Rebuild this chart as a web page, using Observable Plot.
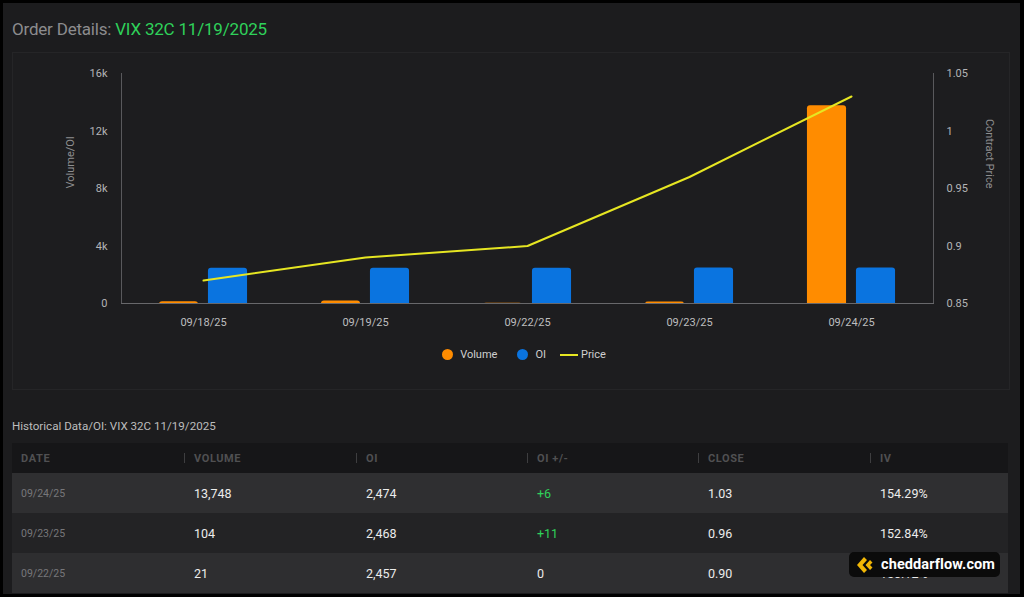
<!DOCTYPE html>
<html>
<head>
<meta charset="utf-8">
<script src="https://cdn.jsdelivr.net/npm/d3@7"></script>
<script src="https://cdn.jsdelivr.net/npm/@observablehq/plot@0.6"></script>
<style>
  html, body { margin: 0; padding: 0; background: #000; }
  body { width: 1024px; height: 597px; overflow: hidden; position: relative; font-family: Roboto, "Noto Sans", sans-serif; }
  #page { position: absolute; left: 3px; top: 3px; width: 1017px; height: 591px; background: #1c1c1e; }
  .abs { position: absolute; }
  #title { left: 12px; top: 19px; font-size: 17px; color: #8c8c8e; white-space: nowrap; letter-spacing: -0.2px; }
  #title .sym { color: #2fd15a; }
  #panel { left: 12px; top: 52px; width: 998px; height: 338px; border: 1px solid #252527; box-sizing: border-box; background: #1d1d1f; }
  #chart { left: 12px; top: 52px; }
  #legend { top: 348px; left: 12px; width: 1024px; display: flex; justify-content: center; align-items: center; font-size: 11px; color: #cfcfcf; }
  #legend .item { display: flex; align-items: center; margin: 0 10px; }
  #legend .item.kind-line { margin-left: 4px; }
  #legend .sw-dot { width: 11px; height: 11px; border-radius: 50%; margin-right: 7px; }
  #legend .sw-line { width: 18px; height: 2px; margin-right: 3px; }
  #histTitle { left: 12px; top: 419px; font-size: 11.6px; color: #bdbdbd; white-space: nowrap; }
  #table { left: 12px; top: 443px; width: 996px; }
  .row { position: relative; height: 40px; }
  .row.head { height: 30px; background: #161618; }
  .cell { position: absolute; top: 0; height: 100%; display: flex; align-items: center; white-space: nowrap; }
  .head .cell { font-size: 11px; font-weight: 700; color: #505052; letter-spacing: 0.6px; }
  .sep { position: absolute; width: 1px; height: 10px; top: 10px; background: #3e3e40; }
  .date { font-size: 10.5px; color: #77777a; }
  .val { font-size: 12.5px; color: #ececec; }
  .pos { color: #2fd15a; }
  #badge { left: 849px; top: 552px; width: 151px; height: 25px; background: #0b0b0b; border-radius: 5px; display: flex; align-items: center; }
  #badge span { color: #fff; font-weight: 700; font-size: 14.5px; margin-left: 4px; letter-spacing: 0.1px; }
</style>
</head>
<body>
<div id="page"></div>
<div id="title" class="abs">Order Details: <span class="sym">VIX 32C 11/19/2025</span></div>
<div id="panel" class="abs"></div>
<div id="chart" class="abs"></div>
<div id="legend" class="abs"></div>
<div id="histTitle" class="abs">Historical Data/OI: VIX 32C 11/19/2025</div>
<div id="table" class="abs"></div>
<div id="badge" class="abs">
  <svg width="22" height="20" viewBox="0 0 22 20" style="margin-left:6px">
    <path d="M9 2 L2 10 L9 18 L12 15 L7.5 10 L12 5 Z" fill="#f2b705"/>
    <path d="M15 5 L10.5 10 L15 15 L17.5 12.5 L15 10 L17.5 7.5 Z" fill="#f2b705"/>
  </svg>
  <span>cheddarflow.com</span>
</div>
<script>
// Daily series for VIX 32C 11/19/2025
const dates = ["09/18/25", "09/19/25", "09/22/25", "09/23/25", "09/24/25"];
const volume = [120, 180, 21, 104, 13748];
const openInterest = [2450, 2457, 2457, 2468, 2474];
const contractPrice = [0.87, 0.89, 0.90, 0.96, 1.03];

// Axis ticks
const volumeTicks = [0, 4000, 8000, 12000, 16000];
const priceTicks = [0.85, 0.90, 0.95, 1.00, 1.05];

// Legend entries
const legendItems = [
  {label: "Volume", color: "#ff8c00", kind: "dot"},
  {label: "OI", color: "#0a74e0", kind: "dot"},
  {label: "Price", color: "#e6e622", kind: "line"}
];

// Table rows (newest first)
const tableHeaders = ["DATE", "VOLUME", "OI", "OI +/-", "CLOSE", "IV"];
const tableDates = ["09/24/25", "09/23/25", "09/22/25"];
const tableVolume = ["13,748", "104", "21"];
const tableOI = ["2,474", "2,468", "2,457"];
const tableOIChange = ["+6", "+11", "0"];
const tableClose = ["1.03", "0.96", "0.90"];
const tableIV = ["154.29%", "152.84%", "150.12%"];

const rows = dates.map((date, i) => ({
  date,
  volume: volume[i],
  oi: openInterest[i],
  price: contractPrice[i]
}));

// Price is drawn on the volume scale through a linear map (secondary axis)
const priceToY = d3.scaleLinear([0.85, 1.05], [0, 16000]);

const W = 998, H = 290;
const mLeft = 109, mRight = 77, mTop = 21, mBottom = 39;
const band = (W - mLeft - mRight) / dates.length;
const barW = 39.5, gap = 9.5;
const inset = (band - barW) / 2;
const off = (barW + gap) / 2;

const chart = Plot.plot({
  width: W,
  height: H,
  marginLeft: mLeft,
  marginRight: mRight,
  marginTop: mTop,
  marginBottom: mBottom,
  style: {background: "transparent", color: "#b4b4b6", fontSize: "11px", fontFamily: "Roboto, 'Noto Sans', sans-serif"},
  x: {domain: dates, padding: 0, label: null},
  y: {domain: [0, 16000], label: null},
  marks: [
    Plot.barY(rows, {x: "date", y: "volume", fill: "#ff8c00", dx: -off, insetLeft: inset, insetRight: inset, insetBottom: -4, rx: 3, clip: true}),
    Plot.barY(rows, {x: "date", y: "oi", fill: "#0a74e0", dx: off, insetLeft: inset, insetRight: inset, insetBottom: -4, rx: 3, clip: true}),
    Plot.frame({anchor: "left", stroke: "#59595c"}),
    Plot.frame({anchor: "right", stroke: "#59595c"}),
    Plot.frame({anchor: "bottom", stroke: "#68686b"}),
    Plot.line(rows, {x: "date", y: d => priceToY(d.price), stroke: "#e6e622", strokeWidth: 2}),
    Plot.axisX({tickSize: 0, tickPadding: 15, label: null, fill: "#bdbdbf"}),
    Plot.axisY({ticks: volumeTicks, tickSize: 0, tickPadding: 14, label: null, tickFormat: d => d === 0 ? "0" : `${d / 1000}k`}),
    Plot.axisY({anchor: "right", ticks: priceTicks.map(priceToY), tickSize: 0, tickPadding: 13, label: null, tickFormat: d => String(+priceToY.invert(d).toFixed(2))}),
    Plot.text(["Volume/OI"], {frameAnchor: "left", text: d => d, rotate: -90, dx: -51, fill: "#8e8e90", fontSize: 11}),
    Plot.text(["Contract Price"], {frameAnchor: "right", text: d => d, rotate: 90, dx: 56, fill: "#8e8e90", fontSize: 11})
  ]
});
document.getElementById("chart").appendChild(chart);

// Legend
const legend = document.getElementById("legend");
for (const item of legendItems) {
  const el = document.createElement("div");
  el.className = "item kind-" + item.kind;
  const sw = document.createElement("div");
  sw.className = "sw-" + item.kind;
  sw.style.background = item.color;
  el.appendChild(sw);
  el.appendChild(document.createTextNode(item.label));
  legend.appendChild(el);
}

// Historical table
const colX = [9, 182, 354, 525, 696, 868];
const table = document.getElementById("table");
const head = document.createElement("div");
head.className = "row head";
tableHeaders.forEach((h, i) => {
  if (i > 0) {
    const s = document.createElement("div");
    s.className = "sep";
    s.style.left = (colX[i] - 10) + "px";
    head.appendChild(s);
  }
  const c = document.createElement("div");
  c.className = "cell";
  c.style.left = colX[i] + "px";
  c.textContent = h;
  head.appendChild(c);
});
table.appendChild(head);

const rowBg = ["#2f2f31", "#232325", "#2e2e30"];
tableDates.forEach((d, r) => {
  const row = document.createElement("div");
  row.className = "row";
  row.style.background = rowBg[r];
  const vals = [d, tableVolume[r], tableOI[r], tableOIChange[r], tableClose[r], tableIV[r]];
  vals.forEach((v, i) => {
    const c = document.createElement("div");
    c.className = "cell " + (i === 0 ? "date" : "val") + (i === 3 && v.startsWith("+") ? " pos" : "");
    c.style.left = colX[i] + "px";
    c.textContent = v;
    row.appendChild(c);
  });
  table.appendChild(row);
});
</script>
</body>
</html>
